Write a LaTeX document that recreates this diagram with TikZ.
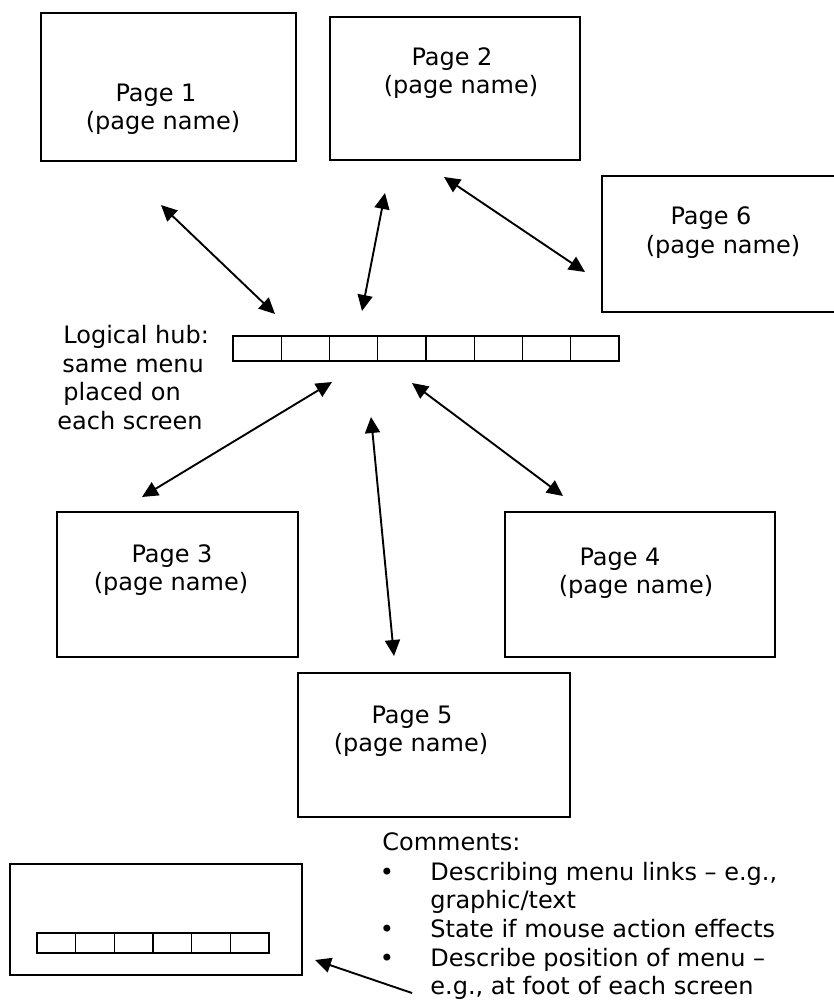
\documentclass[tikz,border=0pt]{standalone}
\usepackage{fontspec}
\setmainfont{DejaVu Sans}
\usetikzlibrary{arrows.meta,fit}
\begin{document}
\begin{tikzpicture}[x=0.5pt,y=-0.5pt,
  pagebox/.style={draw,line width=1pt,inner sep=0pt},
  cell/.style={draw,line width=0.7pt,inner sep=0pt},
  txt/.style={inner sep=0pt,anchor=base,font=\fontsize{12}{14.5}\selectfont},
  ltxt/.style={txt,anchor=base west},
  head/.tip={Triangle[length=8pt,width=7.5pt]},
  link/.style={line width=0.95pt,head-head},
  pointer/.style={line width=0.95pt,-head}]
\clip (0,0) rectangle (834,1000);

% page boxes
\node[pagebox,fit={(41,13) (296,161)}] (p1) {};
\node[pagebox,fit={(330,17) (580,160)}] (p2) {};
\node[pagebox,fit={(602,176) (880,312)}] (p6) {};
\node[pagebox,fit={(57,512) (298,657)}] (p3) {};
\node[pagebox,fit={(505,512) (775,657)}] (p4) {};
\node[pagebox,fit={(298,673) (570,817)}] (p5) {};

% page titles
\node[txt] (p1a) at (156,102) {Page 1};
\node[txt] (p1b) at (163,130) {(page name)};
\node[txt] (p2a) at (452,66) {Page 2};
\node[txt] (p2b) at (461,94) {(page name)};
\node[txt] (p6a) at (711,225) {Page 6};
\node[txt] (p6b) at (723,253) {(page name)};
\node[txt] (p3a) at (172,562) {Page 3};
\node[txt] (p3b) at (171,590) {(page name)};
\node[txt] (p4a) at (620,565) {Page 4};
\node[txt] (p4b) at (636,593) {(page name)};
\node[txt] (p5a) at (412,723) {Page 5};
\node[txt] (p5b) at (411,751) {(page name)};

% shared menu bar (hub)
\foreach \i in {0,...,7}
  \node[cell,minimum width=24.125pt,minimum height=12.5pt] (hub\i) at ({257.125+48.25*\i},348.5) {};

\node[ltxt] (lh1) at (63,343) {Logical hub:};
\node[ltxt] (lh2) at (62,372) {same menu};
\node[ltxt] (lh3) at (63,400) {placed on};
\node[ltxt] (lh4) at (57,429) {each screen};

% arrow ends
\coordinate (a1s) at (161,205); \coordinate (a1e) at (275,314);
\coordinate (a2s) at (385,193); \coordinate (a2e) at (362,311);
\coordinate (a3s) at (444,177); \coordinate (a3e) at (585,272);
\coordinate (a4s) at (332,382); \coordinate (a4e) at (142,497);
\coordinate (a5s) at (412,383); \coordinate (a5e) at (563,496);
\coordinate (a6s) at (371,417); \coordinate (a6e) at (394,656);

\draw[link] (a1s) -- (a1e);
\draw[link] (a2s) -- (a2e);
\draw[link] (a3s) -- (a3e);
\draw[link] (a4s) -- (a4e);
\draw[link] (a5s) -- (a5e);
\draw[link] (a6s) -- (a6e);

% example screen with menu at its foot
\node[pagebox,fit={(10,864) (302,975)}] (scr) {};
\foreach \i in {0,...,5}
  \node[cell,minimum width=19.33pt,minimum height=10pt] (sm\i) at ({56.33+38.67*\i},943) {};

\coordinate (ptr) at (412,993);
\coordinate (ptrend) at (315,960);
\draw[pointer] (ptr) -- (ptrend);

% comments
\node[ltxt] (cm) at (382,850) {Comments:};
\node[txt] (b1) at (387,880) {•};
\node[txt] (b2) at (387,937) {•};
\node[txt] (b3) at (387,966) {•};
\node[ltxt] (c1) at (430,880) {Describing menu links – e.g.,};
\node[ltxt] (c2) at (430,908) {graphic/text};
\node[ltxt] (c3) at (430,937) {State if mouse action effects};
\node[ltxt] (c4) at (430,966) {Describe position of menu –};
\node[ltxt] (c5) at (430,994) {e.g., at foot of each screen};
\end{tikzpicture}
\end{document}
